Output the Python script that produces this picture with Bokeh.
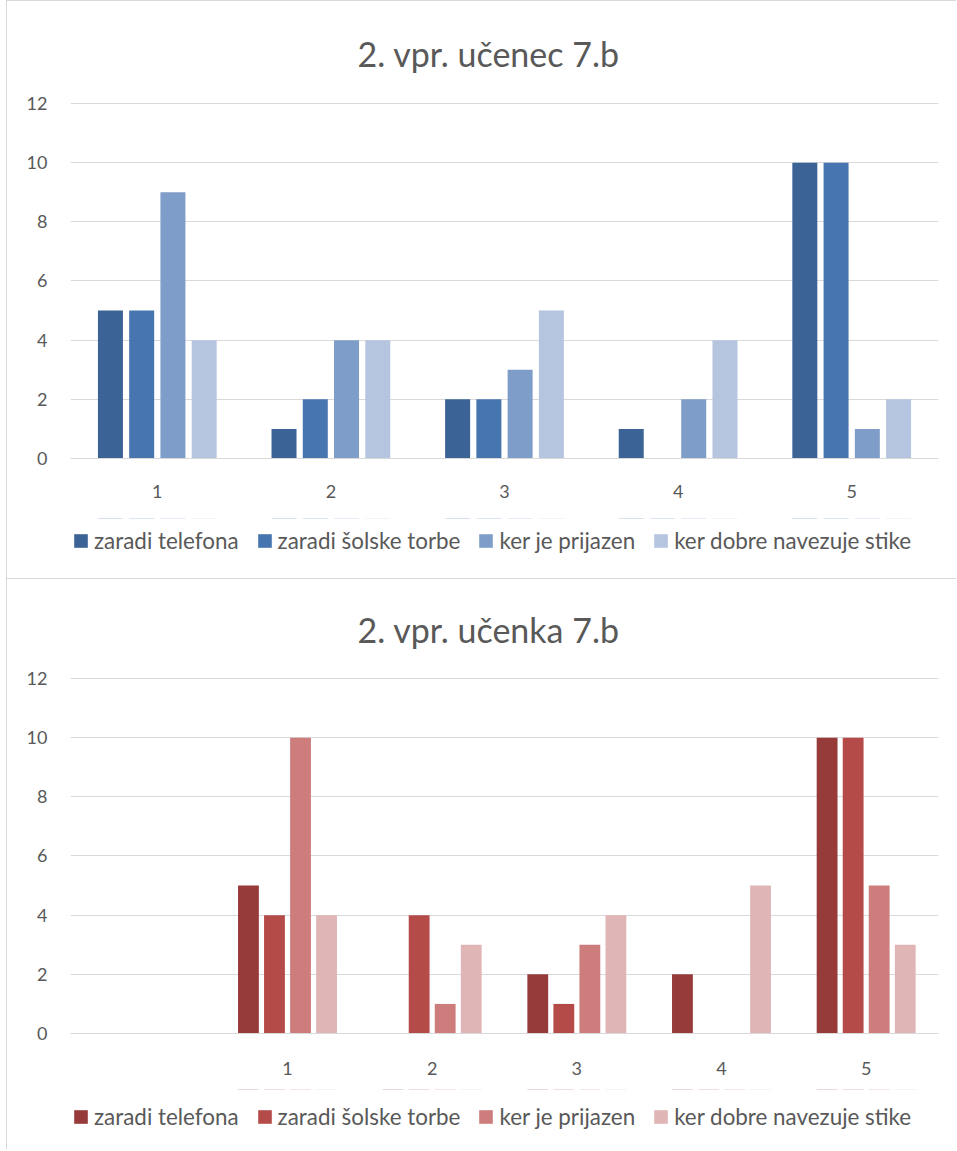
from bokeh.plotting import figure
from bokeh.models import FactorRange, Range1d, Legend, LegendItem, ColumnDataSource, BoxAnnotation
from bokeh.transform import dodge
from bokeh.layouts import column
from bokeh.embed import file_html
from bokeh.resources import INLINE

# ---- data ----
series_names = ["zaradi telefona", "zaradi šolske torbe", "ker je prijazen", "ker dobre navezuje stike"]
y_ticks = [0, 2, 4, 6, 8, 10, 12]

boys_title = "2. vpr. učenec 7.b"
boys_axis_factors = ["1", "2", "3", "4", "5"]
boys_categories = ["1", "2", "3", "4", "5"]
boys_telefon = [5, 1, 2, 1, 10]
boys_torba = [5, 2, 2, 0, 10]
boys_prijazen = [9, 4, 3, 2, 1]
boys_stike = [4, 4, 5, 4, 2]

girls_title = "2. vpr. učenka 7.b"
girls_axis_factors = [" ", "1", "2", "3", "4", "5"]
girls_categories = ["1", "2", "3", "4", "5"]
girls_telefon = [5, 0, 2, 2, 10]
girls_torba = [4, 4, 1, 0, 10]
girls_prijazen = [10, 1, 3, 0, 5]
girls_stike = [4, 3, 4, 5, 3]

blue = ["#3B6396", "#4775AF", "#7F9DC9", "#B5C4DF"]
red = ["#963A3A", "#B54B49", "#CC7D7C", "#E0B5B5"]

FONT = "Lato"
TXT = "#595959"
GRID = "#d9d9d9"
BORDER = "1px solid #d9d9d9"
OFFSETS = [-0.27, -0.09, 0.09, 0.27]


def make_chart(title, factors, cats, series, colors, height, top_b, bottom_b,
               title_standoff, x_standoff, legend_y):
    src = ColumnDataSource(dict(cat=cats, s0=series[0], s1=series[1], s2=series[2], s3=series[3]))
    xr = FactorRange(factors=factors)
    p = figure(x_range=xr, y_range=Range1d(0, 12.0676),
               width=950, height=height, output_backend="svg", toolbar_location=None,
               min_border_left=63, min_border_right=19, min_border_top=top_b,
               min_border_bottom=bottom_b, title=title,
               styles={"margin-left": "6px", "border-top": BORDER, "border-left": BORDER})
    p.title.align = "left"
    p.title.offset = 287
    p.title.text_font = FONT
    p.title.text_font_size = "34px"
    p.title.text_font_style = "normal"
    p.title.text_color = TXT
    p.title.standoff = title_standoff
    p.outline_line_color = None

    for i in range(4):
        p.vbar(x=dodge("cat", OFFSETS[i], range=xr), top="s%d" % i, width=0.144,
               source=src, fill_color=colors[i], line_color=None)

    p.xgrid.grid_line_color = None
    p.ygrid.grid_line_color = GRID
    p.yaxis.ticker = y_ticks
    p.yaxis.axis_line_color = None
    p.yaxis.major_tick_line_color = None
    p.yaxis.minor_tick_line_color = None
    p.yaxis.major_label_standoff = 17
    p.yaxis.major_label_text_font = FONT
    p.yaxis.major_label_text_font_size = "18px"
    p.yaxis.major_label_text_color = TXT

    p.xaxis.axis_line_color = GRID
    p.xaxis.major_tick_line_color = None
    p.xaxis.minor_tick_line_color = None
    p.xaxis.major_label_standoff = x_standoff
    p.xaxis.major_label_text_font = FONT
    p.xaxis.major_label_text_font_size = "18px"
    p.xaxis.major_label_text_color = TXT

    # legend strip below the chart: same data and category scale, value window kept
    # below zero so only the legend swatches show
    q = figure(width=950, height=60, x_range=xr, y_range=Range1d(-2, -1),
               output_backend="svg", toolbar_location=None,
               x_axis_location=None, y_axis_location=None, min_border=0,
               styles={"margin-left": "6px", "border-left": BORDER})
    q.grid.grid_line_color = None
    q.outline_line_color = None
    rs = [q.vbar(x=dodge("cat", OFFSETS[i], range=xr), top="s%d" % i, width=0.144,
                 source=src, fill_color=colors[i], line_color=None) for i in range(4)]
    q.add_layout(BoxAnnotation(bottom=-1.1, fill_color="white", fill_alpha=1.0,
                               line_color=None, line_alpha=0))
    legend = Legend(items=[LegendItem(label=series_names[i], renderers=[rs[i]]) for i in range(4)],
                    orientation="horizontal", location=(2, legend_y),
                    label_text_font=FONT, label_text_font_size="22.4px", label_text_color=TXT,
                    glyph_width=17, glyph_height=17, label_standoff=5, spacing=17,
                    padding=0, margin=0, border_line_color=None, background_fill_alpha=0)
    q.add_layout(legend)
    return p, q


p1, l1 = make_chart(boys_title, boys_axis_factors, boys_categories,
                    [boys_telefon, boys_torba, boys_prijazen, boys_stike], blue,
                    518, 100, 61, 56, 20, 24)
p2, l2 = make_chart(girls_title, girls_axis_factors, girls_categories,
                    [girls_telefon, girls_torba, girls_prijazen, girls_stike], red,
                    511, 97, 57, 53, 17, 19)

layout = column(p1, l1, p2, l2)
open("out.html", "w").write(file_html(layout, INLINE))
